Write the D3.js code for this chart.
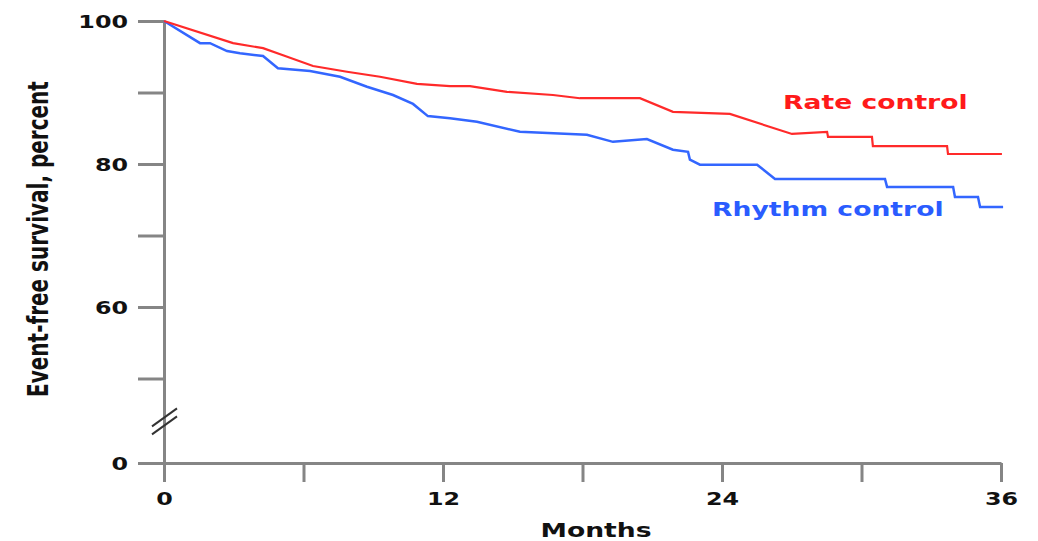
<!DOCTYPE html>
<html>
<head>
<meta charset="utf-8">
<script src="https://cdn.jsdelivr.net/npm/d3@7"></script>
<style>
  body { margin: 0; background: #fff; }
  text { font-family: "DejaVu Sans", Verdana, sans-serif; font-weight: bold; }
</style>
</head>
<body>
<div class="render"></div>
<script>
'use strict';

// Kaplan-Meier style curves (months, event-free %)
var rateMonths = [0, 2.97, 4.26, 5.12, 6.41, 7.87, 9.29, 10.88, 12.3, 13.16, 14.75, 16.73, 17.89, 20.47, 21.89, 24.34, 27.01, 28.52, 28.56, 30.45, 30.49, 33.68, 33.72, 36.04];
var rateValues = [100, 96.9, 96.2, 95.2, 93.7, 92.9, 92.2, 91.2, 90.9, 90.9, 90.1, 89.65, 89.2, 89.2, 87.3, 87.0, 84.2, 84.5, 83.8, 83.8, 82.5, 82.5, 81.4, 81.4];

var rhythmMonths = [0, 1.55, 1.98, 2.71, 3.27, 4.26, 4.9, 6.28, 7.57, 8.73, 9.85, 10.71, 11.35, 12.3, 13.46, 15.31, 18.19, 19.31, 20.77, 21.89, 22.54, 22.62, 23.05, 25.51, 26.28, 31.01, 31.1, 33.94, 34.02, 35.01, 35.1, 36.09];
var rhythmValues = [100, 96.9, 96.9, 95.8, 95.5, 95.1, 93.4, 93.0, 92.2, 90.8, 89.65, 88.4, 86.7, 86.4, 85.9, 84.5, 84.1, 83.1, 83.5, 82.0, 81.7, 80.6, 79.9, 79.9, 77.9, 77.9, 76.8, 76.8, 75.4, 75.4, 74.0, 74.0];

var xTicks = [0, 6, 12, 18, 24, 30, 36];
var xLabels = [0, 12, 24, 36];
var yTicks = [0, 50, 60, 70, 80, 90, 100];
var yLabels = [0, 60, 80, 100];

var seriesNames = ['Rate control', 'Rhythm control'];

function draw() {
   var w = 1038;
   var h = 541;
   var sx = 1.4; // the picture is stretched sideways, so is its text

   var svg = d3.select('.render').append('svg').attr('width', w).attr('height', h);

   var xScale = d3.scaleLinear().domain([0, 36]).range([164, 1001]);
   // broken axis: 0 sits just under the break, 40..100 is linear
   var yScale = d3.scaleLinear().domain([0, 40, 100]).range([463, 450, 21]);

   var axisColor = '#858585';

   // y axis
   var yAxis = d3.axisLeft(yScale).tickValues(yTicks).tickSize(26).tickSizeOuter(0)
      .tickFormat(function (d) { return yLabels.indexOf(d) >= 0 ? d : ''; });
   var gy = svg.append('g').attr('transform', 'translate(164,0)').call(yAxis);
   gy.select('.domain').attr('stroke', axisColor).attr('stroke-width', 3);
   gy.selectAll('.tick line').attr('stroke', axisColor).attr('stroke-width', 3);
   gy.selectAll('.tick text').attr('x', -36 / sx).attr('dy', '0.36em')
      .attr('transform', 'scale(' + sx + ',1)')
      .style('font-size', '17px').attr('fill', '#111');

   // x axis
   var xAxis = d3.axisBottom(xScale).tickValues(xTicks).tickSize(19).tickSizeOuter(0)
      .tickFormat(function (d) { return xLabels.indexOf(d) >= 0 ? d : ''; });
   var gx = svg.append('g').attr('transform', 'translate(0,463)').call(xAxis);
   gx.select('.domain').attr('stroke', axisColor).attr('stroke-width', 3);
   gx.selectAll('.tick line').attr('stroke', axisColor).attr('stroke-width', 3);
   gx.selectAll('.tick text').attr('y', 42).attr('dy', 0)
      .attr('transform', 'scale(' + sx + ',1)')
      .attr('x', 0)
      .style('font-size', '17px').attr('fill', '#111');
   // keep labels centred on ticks after the stretch
   gx.selectAll('.tick').each(function (d) {
      d3.select(this).select('text').attr('transform', 'scale(' + sx + ',1)');
   });

   // axis break marks
   var yb = yScale(44);
   [-4, 4].forEach(function (off) {
      svg.append('line')
         .attr('x1', 152).attr('y1', yb + off + 9)
         .attr('x2', 177).attr('y2', yb + off - 9)
         .attr('stroke', '#333').attr('stroke-width', 2);
   });

   var line = d3.line()
      .x(function (d) { return xScale(d[0]); })
      .y(function (d) { return yScale(d[1]); });

   var rate = d3.zip(rateMonths, rateValues);
   var rhythm = d3.zip(rhythmMonths, rhythmValues);

   svg.append('path').datum(rhythm).attr('d', line)
      .attr('fill', 'none').attr('stroke', '#3366ff').attr('stroke-width', 2.5);
   svg.append('path').datum(rate).attr('d', line)
      .attr('fill', 'none').attr('stroke', '#ff2a2a').attr('stroke-width', 2.2);

   // series labels
   svg.append('text').text(seriesNames[0])
      .attr('transform', 'translate(783,109) scale(' + sx + ',1)')
      .style('font-size', '19px').attr('fill', '#ff1a1a');
   svg.append('text').text(seriesNames[1])
      .attr('transform', 'translate(712,216) scale(' + sx + ',1)')
      .style('font-size', '19px').attr('fill', '#2a5cff');

   // axis titles
   svg.append('text').text('Months')
      .attr('transform', 'translate(596,537) scale(' + sx + ',1)')
      .style('text-anchor', 'middle').style('font-size', '19px').attr('fill', '#111');

   svg.append('text').text('Event-free survival, percent')
      .attr('transform', 'translate(48,239) scale(' + sx + ',1) rotate(-90)')
      .style('text-anchor', 'middle').style('font-size', '20px').attr('fill', '#111');
}

draw();
</script>
</body>
</html>
